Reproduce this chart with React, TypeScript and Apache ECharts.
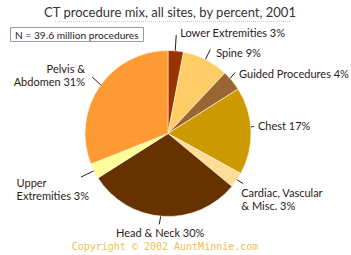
import React, { useEffect, useRef } from "react";
import * as echarts from "echarts";

const categories = [
  "Lower Extremities 3%",
  "Spine 9%",
  "Guided Procedures 4%",
  "Chest 17%",
  "Cardiac, Vascular\n& Misc. 3%",
  "Head & Neck 30%",
  "Upper\nExtremities 3%",
  "Pelvis &\nAbdomen 31%",
];
const values = [3, 9, 4, 17, 3, 30, 3, 31];
const colors = ["#993300", "#FFCC66", "#996633", "#CC9900", "#FFDD99", "#663300", "#FFFF99", "#FF9933"];

const titleText = "CT procedure mix, all sites, by percent, 2001";
const noteText = "N = 39.6 million procedures";
const copyrightText = "Copyright \u00A9 2002 AuntMinnie.com";

const FONT = "Lato, 'Liberation Sans', sans-serif";
const TEXT_COLOR = "#2b1a1a";

// leader-line styling: radial length, nudge of the outer end, label placement relative to that end
const lineLengths = [32, 27, 25, 20, 25, 26, 30, 24];
const lineEndShift = [[-1, -1], [0, -1], [-3, -3], [0, -4.5], [0, -1], [-3, -1], [-1.5, 0], [-1.5, -6]];
const labelPlace: { dx: number; dy: number; align: string; v: string; block?: boolean }[] = [
  { dx: 4, dy: -2, align: "left", v: "middle" },
  { dx: 6, dy: 3, align: "left", v: "middle" },
  { dx: 4, dy: 1, align: "left", v: "middle" },
  { dx: 4, dy: -0.5, align: "left", v: "middle" },
  { dx: -2, dy: 3, align: "left", v: "top" },
  { dx: 1, dy: 2, align: "center", v: "top" },
  { dx: 8, dy: -0.5, align: "left", v: "top", block: true },
  { dx: -7, dy: -2, align: "right", v: "middle" },
];

export default function App() {
  const ref = useRef<HTMLDivElement>(null);
  useEffect(() => {
    if (!ref.current) return;
    const chart = echarts.init(ref.current, undefined, { renderer: "svg" });
    const center = [168, 133.5];
    const outer = values.map((v, i) => ({ value: v, name: categories[i], itemStyle: { color: colors[i] } }));
    const inner = values.map((v, i) => ({
      value: v,
      name: categories[i],
      labelLine: { length: lineLengths[i], length2: 0 },
    }));
    chart.setOption({
      animation: false,
      backgroundColor: "#ffffff",
      graphic: [
        {
          type: "text",
          x: 170,
          y: 12,
          style: { text: titleText, font: `13px ${FONT}`, fill: "#333333", textAlign: "center", textVerticalAlign: "middle" },
        },
        {
          type: "line",
          shape: { x1: 55, y1: 21.5, x2: 290, y2: 21.5 },
          style: { stroke: "#c8c8d0", lineWidth: 1, lineDash: [1, 1] },
        },
        {
          type: "rect",
          shape: { x: 10.5, y: 27.5, width: 133, height: 14 },
          style: { fill: "#ffffff", stroke: "#999999", lineWidth: 1 },
        },
        {
          type: "text",
          x: 15,
          y: 34.5,
          style: { text: noteText, font: `10.2px ${FONT}`, fill: TEXT_COLOR, textVerticalAlign: "middle" },
        },
        {
          type: "text",
          x: 165,
          y: 246,
          style: { text: copyrightText, font: `10px 'DejaVu Sans Mono', monospace`, fill: "#F0C050", textAlign: "center", textVerticalAlign: "middle" },
        },
      ],
      series: [
        {
          type: "pie",
          center,
          radius: 83,
          startAngle: 90,
          clockwise: true,
          avoidLabelOverlap: false,
          silent: true,
          label: { show: false },
          labelLine: { show: false },
          itemStyle: { borderColor: "#fff6e0", borderWidth: 0.6 },
          data: outer,
        },
        {
          type: "pie",
          center,
          radius: 66,
          startAngle: 90,
          clockwise: true,
          avoidLabelOverlap: false,
          silent: true,
          itemStyle: { color: "rgba(0,0,0,0)" },
          label: {
            show: true,
            position: "outside",
            fontFamily: FONT,
            fontSize: 11,
            color: TEXT_COLOR,
            lineHeight: 12.5,
          },
          labelLine: { show: true, lineStyle: { color: TEXT_COLOR, width: 1 } },
          labelLayout: (p: any) => {
            const src = p.labelLinePoints;
            if (!src) return {};
            const sh = lineEndShift[p.dataIndex];
            const pts = src.map((q: number[], k: number) => (k === 0 ? [q[0], q[1]] : [q[0] + sh[0], q[1] + sh[1]]));
            const end = pts[pts.length - 1];
            const lp = labelPlace[p.dataIndex];
            let x = end[0] + lp.dx;
            if (lp.block) x -= p.labelRect.width;
            return { x, y: end[1] + lp.dy, align: lp.align, verticalAlign: lp.v, labelLinePoints: pts };
          },
          data: inner,
        },
      ],
    });
    return () => chart.dispose();
  }, []);
  return <div ref={ref} style={{ position: "fixed", left: 0, top: 0, width: 351, height: 255 }} />;
}
